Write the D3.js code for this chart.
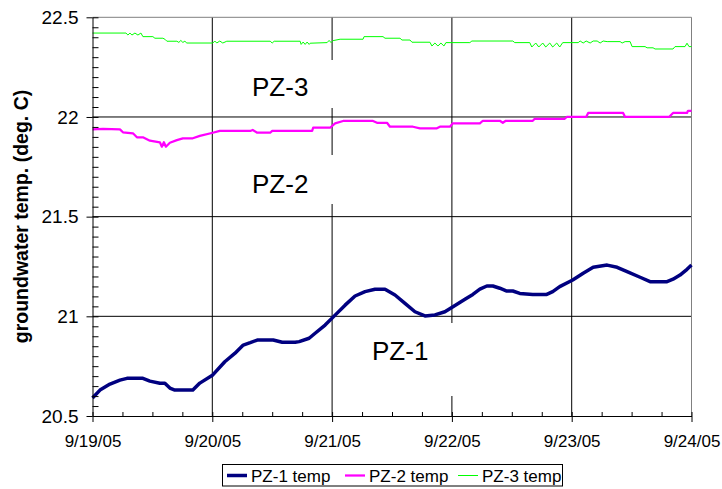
<!DOCTYPE html>
<html><head><meta charset="utf-8">
<script src="https://cdn.jsdelivr.net/npm/d3@7"></script>
<style>
html,body{margin:0;padding:0;background:#fff;}
svg text{font-family:"Liberation Sans",Arial,sans-serif;fill:#000;}
</style></head>
<body><svg id="chart" width="722" height="489"></svg>
<script>
// Hours since 9/19/05 00:00, temperature (deg. C)
const pz1 = [[0,20.590],[1.5,20.630],[3.5,20.660],[5.5,20.680],[6.9,20.689],[10.1,20.689],[11.5,20.675],[13.5,20.664],[14.5,20.664],[15.5,20.640],[16.5,20.630],[20.1,20.630],[21.5,20.665],[24.1,20.706],[26.5,20.772],[28.5,20.814],[30.2,20.856],[31.6,20.868],[33.0,20.881],[36.2,20.881],[38.0,20.870],[40.6,20.870],[41.4,20.873],[43.4,20.890],[44.6,20.915],[46.6,20.956],[48.6,21.006],[50.6,21.056],[52.6,21.102],[54.6,21.124],[56.6,21.136],[58.6,21.136],[60.6,21.107],[62.6,21.065],[64.6,21.023],[66.6,21.002],[68.6,21.007],[70.6,21.023],[72.7,21.056],[74.7,21.087],[76.2,21.110],[77.6,21.136],[79.0,21.152],[80.2,21.152],[81.6,21.141],[83.0,21.127],[84.2,21.127],[85.6,21.115],[88.2,21.110],[91.0,21.110],[92.2,21.124],[93.6,21.149],[96.2,21.182],[98.3,21.216],[100.3,21.246],[103.1,21.257],[105.1,21.246],[107.1,21.224],[109.7,21.196],[111.7,21.174],[115.1,21.174],[116.3,21.186],[117.7,21.207],[119.1,21.236],[120,21.257]];
const pz2 = [[0,21.938],[2.1,21.940],[5.5,21.938],[6.1,21.923],[8.1,21.918],[8.9,21.898],[10.1,21.898],[11.5,21.881],[13.5,21.873],[13.9,21.851],[14.3,21.873],[14.7,21.851],[15.5,21.871],[16.9,21.884],[18.1,21.893],[20.1,21.893],[21.5,21.905],[24.1,21.921],[25.5,21.930],[31.6,21.930],[32.1,21.935],[33.0,21.921],[35.6,21.921],[36.0,21.930],[44.0,21.930],[44.2,21.946],[47.6,21.946],[48.6,21.968],[50.2,21.980],[56.2,21.980],[57.0,21.971],[59.0,21.971],[59.6,21.951],[64.2,21.951],[65.6,21.943],[69.0,21.943],[69.6,21.951],[71.6,21.951],[72.2,21.968],[77.6,21.968],[78.2,21.981],[81.6,21.981],[82.2,21.971],[82.8,21.981],[88.2,21.981],[88.6,21.991],[94.6,21.991],[95.0,22.000],[98.9,22.000],[99.3,22.020],[106.3,22.020],[106.7,22.000],[115.5,22.000],[115.9,22.010],[116.3,22.020],[119.1,22.020],[119.3,22.031],[120,22.031]];
const pz3 = [[0,22.421],[6.7,22.421],[7.1,22.411],[7.5,22.421],[7.9,22.411],[8.5,22.421],[9.1,22.411],[9.7,22.421],[10.1,22.403],[12.1,22.403],[12.5,22.395],[14.1,22.395],[14.5,22.390],[14.9,22.380],[16.9,22.380],[17.3,22.374],[17.7,22.384],[18.1,22.374],[18.5,22.380],[18.9,22.371],[24.1,22.371],[24.5,22.381],[24.9,22.371],[25.5,22.381],[26.1,22.371],[26.9,22.380],[35.6,22.380],[36.0,22.371],[36.4,22.380],[41.6,22.380],[41.8,22.364],[42.2,22.376],[42.6,22.364],[43.0,22.376],[43.4,22.364],[43.6,22.370],[47.0,22.373],[47.4,22.384],[47.8,22.373],[48.2,22.383],[49.6,22.390],[54.2,22.390],[54.4,22.403],[58.2,22.403],[58.6,22.395],[61.6,22.395],[62.0,22.386],[63.6,22.386],[64.0,22.375],[67.6,22.375],[68.0,22.356],[68.6,22.371],[69.2,22.356],[69.8,22.371],[70.4,22.356],[70.8,22.373],[75.6,22.373],[76.0,22.381],[84.2,22.381],[84.6,22.373],[87.6,22.373],[88.0,22.351],[88.8,22.371],[89.4,22.351],[90.2,22.371],[90.8,22.351],[91.6,22.371],[92.2,22.351],[93.0,22.371],[93.6,22.351],[94.2,22.373],[97.3,22.373],[97.7,22.381],[98.3,22.371],[98.9,22.381],[99.7,22.371],[100.3,22.381],[101.1,22.381],[101.7,22.371],[102.3,22.381],[103.1,22.378],[105.7,22.378],[106.1,22.371],[106.7,22.378],[107.7,22.378],[108.1,22.353],[110.7,22.353],[111.1,22.347],[112.3,22.347],[112.7,22.341],[116.3,22.341],[116.7,22.353],[118.7,22.353],[119.1,22.370],[119.5,22.353],[120,22.353]];

const seriesNames = ["PZ-1 temp","PZ-2 temp","PZ-3 temp"];
const seriesColors = ["#000080","#FF00FF","#00FF00"];
const seriesWidths = [3.5,2.25,1];
const yTicks = [20.5,21,21.5,22,22.5];
const yTitle = "groundwater temp. (deg. C)";
const startDate = new Date(2005,8,19);
const endDate = new Date(2005,8,24);

const svg = d3.select("#chart");
const L=92.5, R=691.5, T=17.3, B=416;
const x = d3.scaleTime().domain([startDate,endDate]).range([L,R]);
const y = d3.scaleLinear().domain([20.5,22.5]).range([B,T]);
const toDate = h => new Date(startDate.getTime()+h*3600e3);

// gridlines
const g = svg.append("g");
g.selectAll(".hg").data([21,21.5,22]).enter().append("line")
  .attr("x1",L).attr("x2",R).attr("y1",d=>y(d)).attr("y2",d=>y(d))
  .attr("stroke","#000").attr("stroke-width",1);
g.selectAll(".vg").data(d3.timeDay.range(new Date(2005,8,20),endDate)).enter().append("line")
  .attr("x1",d=>x(d)).attr("x2",d=>x(d)).attr("y1",T).attr("y2",B)
  .attr("stroke","#000").attr("stroke-width",1);
// plot border top/right
svg.append("path").attr("d",`M${L},${T}H${R}V${B}`).attr("fill","none").attr("stroke","#808080").attr("stroke-width",1);

// label boxes (white) covering gridlines
const labels = [
  {t:"PZ-3", x:252, y:96, box:[230,60,106,48]},
  {t:"PZ-2", x:252, y:193, box:[230,155,106,49]},
  {t:"PZ-1", x:372, y:360, box:[345,323,111,73]}
];
svg.selectAll(".lb").data(labels).enter().append("rect")
  .attr("x",d=>d.box[0]).attr("y",d=>d.box[1]).attr("width",d=>d.box[2]).attr("height",d=>d.box[3]).attr("fill","#fff");
svg.selectAll(".lt").data(labels).enter().append("text")
  .attr("x",d=>d.x).attr("y",d=>d.y).attr("font-size",26).text(d=>d.t);

// series
const line = d3.line().x(d=>x(toDate(d[0]))).y(d=>y(d[1]));
[pz3,pz2,pz1].forEach((s,i)=>{
  const k = 2-i;
  svg.append("path").datum(s).attr("d",line).attr("fill","none")
    .attr("stroke",seriesColors[k]).attr("stroke-width",seriesWidths[k])
    .attr("stroke-linejoin","round");
});

// axes
const yAxis = svg.append("g").attr("transform",`translate(${L},0)`)
  .call(d3.axisLeft(y).tickValues(yTicks).tickFormat(d=>String(d)).tickSizeInner(6).tickSizeOuter(0).tickPadding(8));
yAxis.selectAll("text").attr("font-size",19).style("font-family","'Liberation Sans',Arial,sans-serif");
const yMinor = svg.append("g").attr("transform",`translate(${L},0)`)
  .call(d3.axisLeft(y).tickValues(d3.range(0,41).map(i=>20.5+i*0.05)).tickFormat("").tickSizeInner(-6).tickSizeOuter(0));
yMinor.select(".domain").remove();

const xAxis = svg.append("g").attr("transform",`translate(0,${B})`)
  .call(d3.axisBottom(x).ticks(d3.timeDay.every(1)).tickFormat(d3.timeFormat("%-m/%-d/%y")).tickSizeInner(6).tickSizeOuter(0).tickPadding(13));
xAxis.selectAll("text").attr("font-size",17).style("font-family","'Liberation Sans',Arial,sans-serif");
const xMinor = svg.append("g").attr("transform",`translate(0,${B})`)
  .call(d3.axisBottom(x).ticks(d3.timeHour.every(6)).tickFormat("").tickSizeInner(-4).tickSizeOuter(0));
xMinor.select(".domain").remove();
svg.selectAll(".domain").attr("stroke","#000");
svg.selectAll(".tick line").attr("stroke","#000");

// y title
svg.append("text").attr("transform","translate(28,216.5) rotate(-90)")
  .attr("text-anchor","middle").attr("font-size",19.5).attr("font-weight","bold").text(yTitle);

// legend
const lg = svg.append("g");
lg.append("rect").attr("x",222.5).attr("y",464.5).attr("width",340).attr("height",21.5)
  .attr("fill","#fff").attr("stroke","#000").attr("stroke-width",1);
const legX = [227,345,458];
seriesNames.forEach((n,i)=>{
  lg.append("line").attr("x1",legX[i]).attr("x2",legX[i]+20).attr("y1",475.5).attr("y2",475.5)
    .attr("stroke",seriesColors[i]).attr("stroke-width",seriesWidths[i]);
  lg.append("text").attr("x",legX[i]+24).attr("y",481.5).attr("font-size",17).text(n);
});
</script></body></html>
